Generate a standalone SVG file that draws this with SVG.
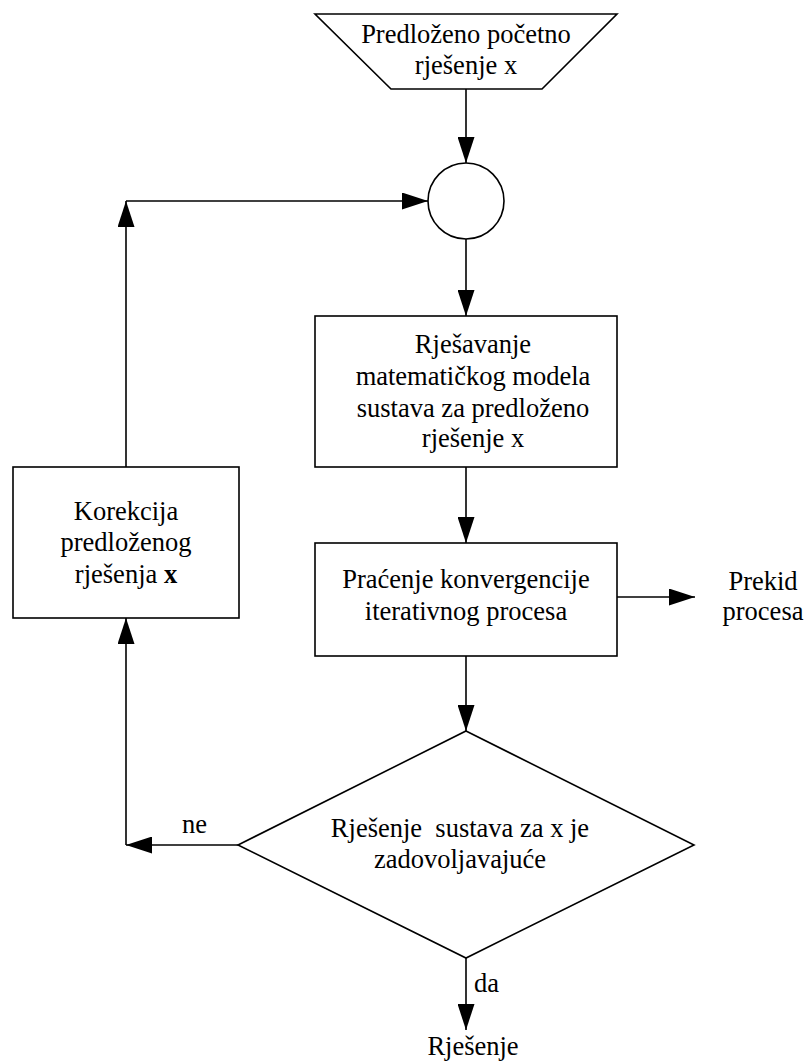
<svg xmlns="http://www.w3.org/2000/svg" width="805" height="1061" viewBox="0 0 805 1061">
<defs>
<style>
.s{fill:#fff;stroke:#000;stroke-width:1.6}
.c{fill:none;stroke:#000;stroke-width:1.6}
text{font-family:'Times New Roman','Liberation Serif','DejaVu Serif',serif;font-size:26.5px;fill:#000}
.m{text-anchor:middle}
</style>
<marker id="ah" markerWidth="26" markerHeight="17" refX="26" refY="8.5" orient="auto" markerUnits="userSpaceOnUse">
<path d="M0,0 L26,8.5 L0,17 Z" fill="#000"/>
</marker>
</defs>
<rect width="805" height="1061" fill="#fff"/>
<g id="connectors">
<path class="c" d="M466,89 V163" marker-end="url(#ah)"/>
<path class="c" d="M466,239 V316" marker-end="url(#ah)"/>
<path class="c" d="M466,467 V543" marker-end="url(#ah)"/>
<path class="c" d="M466,656 V731" marker-end="url(#ah)"/>
<path class="c" d="M617,597 H695" marker-end="url(#ah)"/>
<path class="c" d="M466,958 V1030" marker-end="url(#ah)"/>
<path class="c" d="M238,845 H126" marker-end="url(#ah)"/>
<path class="c" d="M126,845 V618" marker-end="url(#ah)"/>
<path class="c" d="M126,467 V201" marker-end="url(#ah)"/>
<path class="c" d="M126,201 H428" marker-end="url(#ah)"/>
<text x="182" y="833" font-family="Liberation Serif, serif">ne</text>
<text x="474" y="992" font-family="Liberation Serif, serif">da</text>
</g>
<g id="start">
<polygon class="s" points="315,14 617,14 542,89 391,89"/>
<text class="m" x="466" y="43" font-family="Liberation Serif, serif">Predloženo početno</text>
<text class="m" x="466" y="74" font-family="Liberation Serif, serif">rješenje x</text>
</g>
<g id="junction">
<circle class="s" cx="466" cy="201" r="38"/>
</g>
<g id="solve">
<rect class="s" x="315" y="316" width="302" height="151"/>
<text class="m" x="473" y="353" font-family="Liberation Serif, serif">Rješavanje</text>
<text class="m" x="473" y="385" font-family="Liberation Serif, serif">matematičkog modela</text>
<text class="m" x="473" y="417" font-family="Liberation Serif, serif">sustava za predloženo</text>
<text class="m" x="473" y="447" font-family="Liberation Serif, serif">rješenje x</text>
</g>
<g id="monitor">
<rect class="s" x="315" y="543" width="302" height="113"/>
<text class="m" x="466" y="588" font-family="Liberation Serif, serif">Praćenje konvergencije</text>
<text class="m" x="466" y="620" font-family="Liberation Serif, serif">iterativnog procesa</text>
</g>
<g id="stop">
<text class="m" x="763" y="590" font-family="Liberation Serif, serif">Prekid</text>
<text class="m" x="763" y="620" font-family="Liberation Serif, serif">procesa</text>
</g>
<g id="correction">
<rect class="s" x="13" y="467" width="226" height="151"/>
<text class="m" x="126" y="520" font-family="Liberation Serif, serif">Korekcija</text>
<text class="m" x="126" y="551" font-family="Liberation Serif, serif">predloženog</text>
<text class="m" x="126" y="583" font-family="Liberation Serif, serif">rješenja <tspan font-weight="bold">x</tspan></text>
</g>
<g id="decision">
<polygon class="s" points="466,731 694,845 466,958 238,845"/>
<text class="m" x="460" y="837" xml:space="preserve" font-family="Liberation Serif, serif">Rješenje  sustava za x je</text>
<text class="m" x="460" y="868" font-family="Liberation Serif, serif">zadovoljavajuće</text>
</g>
<g id="result">
<text class="m" x="473" y="1055" font-family="Liberation Serif, serif">Rješenje</text>
</g>
</svg>
